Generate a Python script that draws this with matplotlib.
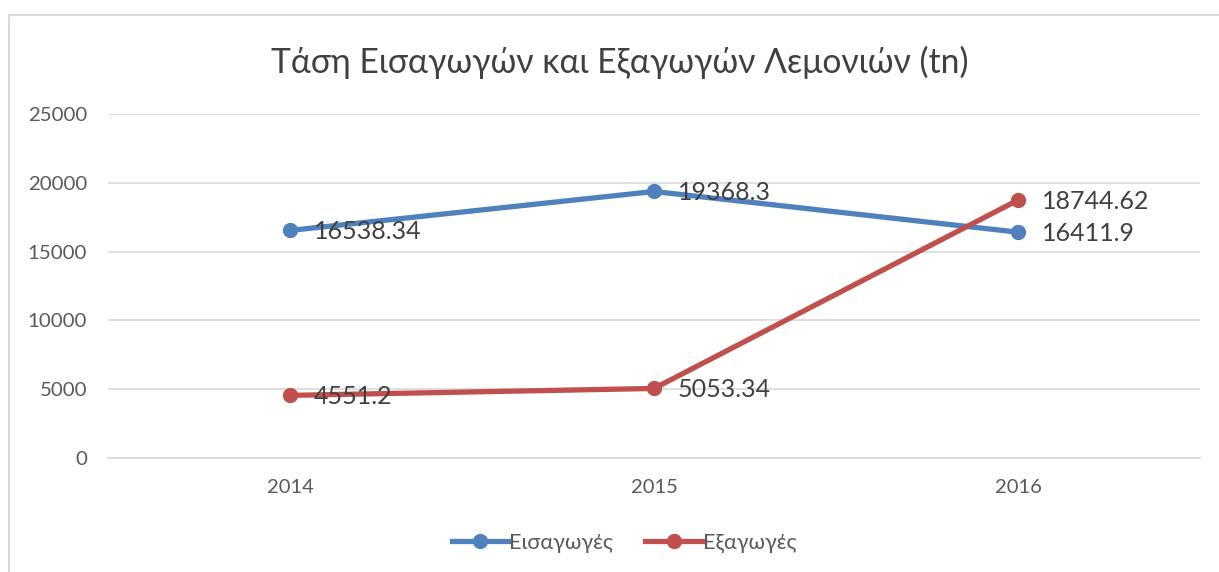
import matplotlib.pyplot as plt
from matplotlib.lines import Line2D

plt.rcParams['font.family'] = ['Lato', 'Open Sans', 'DejaVu Sans']

years = ['2014', '2015', '2016']
imports = [16538.34, 19368.3, 16411.9]
exports = [4551.2, 5053.34, 18744.62]
import_labels = ['16538.34', '19368.3', '16411.9']
export_labels = ['4551.2', '5053.34', '18744.62']
series_names = ['Εισαγωγές', 'Εξαγωγές']
title = 'Τάση Εισαγωγών και Εξαγωγών Λεμονιών (tn)'

blue = '#4F81BD'
red = '#C0504D'

W, H = 1219, 572
fig = plt.figure(figsize=(W / 100, H / 100), dpi=100)
ax = fig.add_axes([108 / W, 1 - 458 / H, (1200 - 108) / W, (458 - 114) / H])

x = range(len(years))
ax.plot(x, imports, color=blue, lw=3.8, marker='o', ms=10, solid_capstyle='round', zorder=3)
ax.plot(x, exports, color=red, lw=3.8, marker='o', ms=10, solid_capstyle='round', zorder=3)

for i, (v, s) in enumerate(zip(imports, import_labels)):
    ax.annotate(s, (i, v), xytext=(17, -1), textcoords='offset points',
                ha='left', va='center', fontsize=18, color='#404040', zorder=4)
for i, (v, s) in enumerate(zip(exports, export_labels)):
    ax.annotate(s, (i, v), xytext=(17, -1), textcoords='offset points',
                ha='left', va='center', fontsize=18, color='#404040', zorder=4)

ax.set_xlim(-0.5, 2.5)
ax.set_ylim(0, 25000)
ax.set_yticks(range(0, 25001, 5000))
ax.set_xticks(list(x))
ax.set_xticklabels(years)
ax.grid(axis='y', color='#d9d9d9', lw=1.2)
ax.set_axisbelow(True)
for sp in ['top', 'right', 'left']:
    ax.spines[sp].set_visible(False)
ax.spines['bottom'].set_color('#d9d9d9')
ax.spines['bottom'].set_linewidth(1.2)
ax.tick_params(axis='y', length=0, labelsize=14.7, colors='#595959', pad=15)
ax.tick_params(axis='x', length=0, labelsize=14.5, colors='#595959', pad=15)

fig.text(620 / W, 1 - 62 / H, title, ha='center', va='center', fontsize=24.3, color='#404040')

handles = [Line2D([], [], color=blue, lw=3.8, marker='o', ms=10),
           Line2D([], [], color=red, lw=3.8, marker='o', ms=10)]
fig.legend(handles, series_names, loc='center', bbox_to_anchor=(624 / W, 1 - 543 / H),
           ncol=2, frameon=False, fontsize=15.6, handlelength=2.6, columnspacing=1.5,
           handletextpad=0.05, labelcolor='#595959')

# chart frame (top and left edges visible)
fig.add_artist(Line2D([8.5 / W, 8.5 / W], [0, 1 - 14.5 / H], color='#d9d9d9', lw=1.5))
fig.add_artist(Line2D([8.5 / W, 1], [1 - 14.5 / H, 1 - 14.5 / H], color='#d9d9d9', lw=1.5))

fig.savefig('out.png', dpi=100)
